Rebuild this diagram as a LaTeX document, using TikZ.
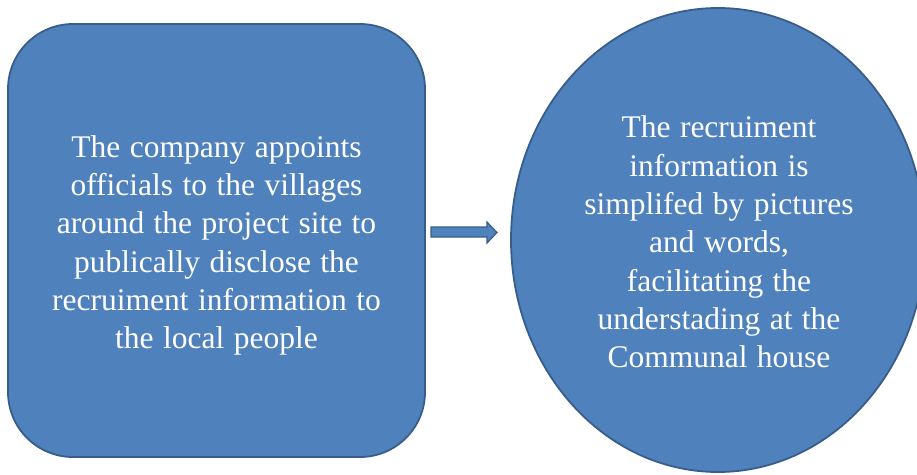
\documentclass[tikz,border=0pt]{standalone}
\usepackage{fontspec}
\setmainfont{Liberation Serif}[WordSpace=1.2]
\usetikzlibrary{shapes.geometric}
\definecolor{boxfill}{HTML}{4F81BD}
\definecolor{boxline}{HTML}{385D8A}
\begin{document}
\begin{tikzpicture}[x=1pt,y=-1pt,
  shapebox/.style={fill=boxfill, draw=boxline, line width=1.8pt},
  txt/.style={text=white, align=center, font=\fontsize{31.5}{38.3}\selectfont}]
\useasboundingbox (0,0) rectangle (917,474);
\clip (0,0) rectangle (917,474);
\node[shapebox, rectangle, rounded corners=65pt, minimum width=417pt, minimum height=433pt, inner sep=0pt] (box) at (216.5,240.5) {};
\node[shapebox, ellipse, minimum width=414pt, minimum height=464pt, inner sep=0pt] (oval) at (718,240) {};
\node[txt] (lefttext) at (216.5,245.5) {The company appoints\\officials to the villages\\around the project site to\\publically disclose the\\recruiment information to\\the local people};
\node[txt] (righttext) at (719,242) {The recruiment\\information is\\simplifed by pictures\\and words,\\facilitating the\\understading at the\\Communal house};
\draw[shapebox, line width=1.2pt] (431,227) -- (487,227) -- (487,222) -- (497,232.5) -- (487,243) -- (487,237) -- (431,237) -- cycle;
\end{tikzpicture}
\end{document}
